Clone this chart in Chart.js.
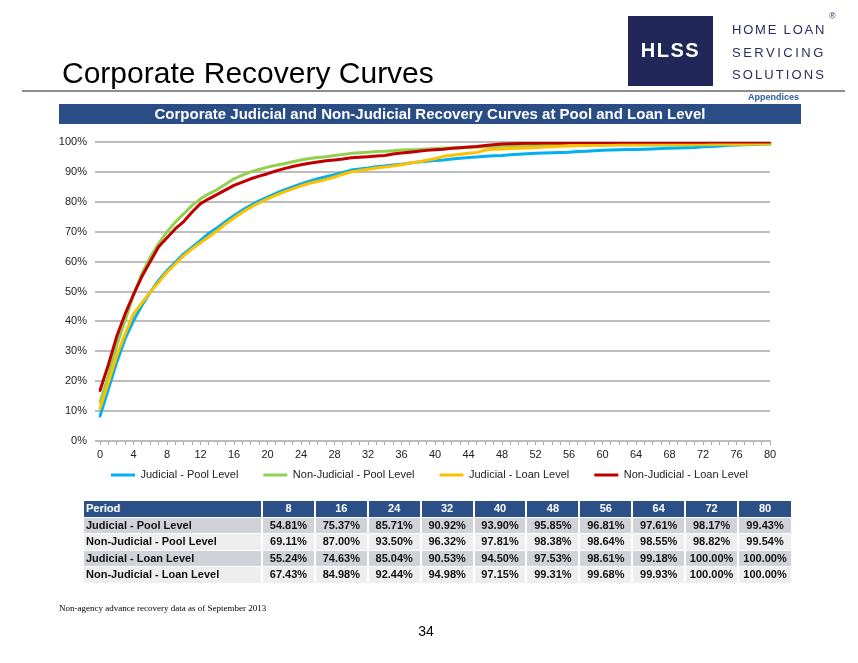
<!DOCTYPE html>
<html>
<head>
<meta charset="utf-8">
<script src="https://cdn.jsdelivr.net/npm/chart.js@4.4.1/dist/chart.umd.min.js"></script>
<style>
  html, body { margin: 0; padding: 0; background: #ffffff; }
  body { width: 858px; height: 663px; position: relative; overflow: hidden; font-family: "Liberation Sans", Arial, sans-serif; }
  #chart { position: absolute; left: 0; top: 0; }
  .abs { position: absolute; white-space: nowrap; line-height: 1; }
  #title { left: 62px; top: 57.6px; font-size: 30px; color: #000; }
  #logoBox { left: 628px; top: 16px; width: 85px; height: 70px; background: #212859; }
  #logoText { left: 628px; width: 85px; top: 40px; text-align: center; font-size: 20px; font-weight: bold; color: #fff; letter-spacing: 1.5px; }
  .logoLine { left: 732px; font-size: 13px; color: #2b2d5c; }
  #reg { left: 829px; top: 12px; font-size: 9px; color: #2b2d5c; }
  #rule { position: absolute; left: 22px; top: 90px; width: 823px; height: 1.5px; background: #8c8c8c; }
  #appx { right: 59px; top: 93.4px; font-size: 9px; font-weight: bold; color: #2e5ba0; }
  #banner { position: absolute; left: 59px; top: 104px; width: 742px; height: 20px; background: #2a4d86; color: #fff; font-weight: bold; font-size: 15px; line-height: 20px; text-align: center; white-space: nowrap; }
  #tbl { position: absolute; left: 84px; top: 501px; width: 707px; border-collapse: collapse; table-layout: fixed; font-size: 11px; font-weight: bold; }
  #tbl td { padding: 0; height: 15.5px; line-height: 15px; border-left: 2px solid #fff; border-top: 1px solid #fff; text-align: center; color: #111; overflow: hidden; }
  #tbl td:first-child { text-align: left; padding-left: 2px; border-left: none; }
  #tbl tr.hdr td { background: #2b4f87; color: #fff; border-top: none; }
  #tbl tr.odd td { background: #d0d2d9; }
  #tbl tr.even td { background: #eeeeee; }
  #foot { left: 59px; top: 603.5px; font-family: "Liberation Serif", "Times New Roman", serif; font-size: 9px; color: #000; }
  #page { left: 406px; width: 40px; text-align: center; top: 624px; font-size: 14px; color: #000; }
</style>
</head>
<body>
<canvas id="chart" width="858" height="663"></canvas>

<div class="abs" id="title">Corporate Recovery Curves</div>
<div class="abs" id="logoBox"></div>
<div class="abs" id="logoText">HLSS</div>
<div class="abs logoLine" style="top:22.5px; letter-spacing:1.8px;">HOME LOAN</div>
<div class="abs logoLine" style="top:45.7px; letter-spacing:2.5px;">SERVICING</div>
<div class="abs logoLine" style="top:68.3px; letter-spacing:2.1px;">SOLUTIONS</div>
<div class="abs" id="reg">®</div>
<div id="rule"></div>
<div class="abs" id="appx">Appendices</div>
<div id="banner">Corporate Judicial and Non-Judicial Recovery Curves at Pool and Loan Level</div>
<table id="tbl"></table>
<div class="abs" id="foot">Non-agency advance recovery data as of September 2013</div>
<div class="abs" id="page">34</div>

<script>
// ---------- Chart data ----------
const periods = [0, 1, 2, 3, 4, 5, 6, 7, 8, 9,
  10, 11, 12, 13, 14, 15, 16, 17, 18, 19,
  20, 21, 22, 23, 24, 25, 26, 27, 28, 29,
  30, 31, 32, 33, 34, 35, 36, 37, 38, 39,
  40, 41, 42, 43, 44, 45, 46, 47, 48, 49,
  50, 51, 52, 53, 54, 55, 56, 57, 58, 59,
  60, 61, 62, 63, 64, 65, 66, 67, 68, 69,
  70, 71, 72, 73, 74, 75, 76, 77, 78, 79, 80];

const seriesNames = ["Judicial - Pool Level", "Non-Judicial - Pool Level", "Judicial - Loan Level", "Non-Judicial - Loan Level"];

const judicialPool = [8.3, 17.4, 26.3, 34.2, 40.3, 45.3, 49.8, 53.7, 57.0, 59.8,
  62.6, 64.8, 67.1, 69.5, 71.3, 73.4, 75.4, 77.2, 78.8, 80.3,
  81.6, 82.8, 84.0, 85.0, 86.0, 86.9, 87.7, 88.4, 89.1, 89.8,
  90.6, 91.0, 91.3, 91.7, 92.0, 92.3, 92.6, 93.0, 93.3, 93.6,
  93.8, 94.0, 94.3, 94.6, 94.8, 95.0, 95.2, 95.4, 95.5, 95.7,
  95.9, 96.1, 96.2, 96.3, 96.4, 96.5, 96.6, 96.8, 96.9, 97.1,
  97.2, 97.3, 97.4, 97.5, 97.5, 97.6, 97.7, 97.8, 97.9, 98.0,
  98.1, 98.2, 98.4, 98.5, 98.7, 98.9, 99.0, 99.1, 99.2, 99.3, 99.3];

const nonJudicialPool = [12.9, 21.9, 32.0, 40.3, 48.7, 56.0, 61.5, 66.0, 70.0, 73.2,
  76.0, 78.8, 81.0, 82.7, 84.1, 85.9, 87.7, 88.9, 90.0, 90.8,
  91.6, 92.2, 92.7, 93.4, 94.0, 94.5, 94.8, 95.1, 95.5, 95.8,
  96.2, 96.4, 96.6, 96.8, 96.9, 97.1, 97.3, 97.4, 97.5, 97.7,
  97.8, 98.0, 98.0, 98.1, 98.2, 98.3, 98.4, 98.5, 98.6, 98.7,
  98.7, 98.8, 98.8, 98.8, 98.8, 98.9, 98.9, 98.9, 98.9, 98.9,
  98.9, 99.0, 99.0, 99.0, 99.0, 99.0, 99.0, 99.0, 99.0, 99.0,
  99.0, 99.1, 99.1, 99.1, 99.2, 99.2, 99.2, 99.2, 99.3, 99.3, 99.3];

const judicialLoan = [10.9, 19.6, 28.6, 35.8, 42.5, 46.2, 49.8, 53.1, 56.5, 59.2,
  62.0, 64.3, 66.3, 68.3, 70.4, 72.6, 74.6, 76.5, 78.2, 79.6,
  81.0, 82.2, 83.3, 84.3, 85.3, 86.2, 86.8, 87.5, 88.3, 89.2,
  90.0, 90.5, 90.9, 91.3, 91.6, 92.0, 92.4, 93.0, 93.3, 93.9,
  94.4, 95.2, 95.6, 95.9, 96.2, 96.5, 97.3, 97.6, 97.7, 97.8,
  97.9, 98.0, 98.1, 98.3, 98.4, 98.6, 98.7, 98.8, 98.9, 99.0,
  99.1, 99.1, 99.2, 99.2, 99.2, 99.3, 99.3, 99.3, 99.3, 99.3,
  99.3, 99.4, 99.4, 99.4, 99.4, 99.4, 99.4, 99.4, 99.4, 99.4, 99.4];

const nonJudicialLoan = [16.9, 25.5, 35.0, 42.5, 49.0, 55.0, 60.0, 65.0, 68.0, 71.0,
  73.4, 76.6, 79.4, 81.0, 82.5, 84.0, 85.5, 86.6, 87.7, 88.6,
  89.4, 90.3, 91.1, 91.8, 92.4, 92.9, 93.3, 93.7, 94.0, 94.3,
  94.7, 94.9, 95.1, 95.3, 95.5, 96.0, 96.3, 96.6, 96.9, 97.2,
  97.4, 97.6, 97.9, 98.1, 98.3, 98.5, 98.8, 99.1, 99.3, 99.4,
  99.5, 99.6, 99.6, 99.7, 99.7, 99.7, 99.8, 99.8, 99.8, 99.8,
  99.8, 99.8, 99.9, 99.9, 99.9, 99.9, 99.9, 99.9, 99.9, 99.9,
  99.9, 99.9, 99.9, 100, 100, 100, 100, 100, 100, 100, 100];

const seriesColors = ["#00b0f0", "#92d050", "#ffc000", "#c00000"];

// ---------- Table data ----------
const tableHeader = ["Period", "8", "16", "24", "32", "40", "48", "56", "64", "72", "80"];
const rowJudicialPool = ["Judicial - Pool Level", "54.81%", "75.37%", "85.71%", "90.92%", "93.90%", "95.85%", "96.81%", "97.61%", "98.17%", "99.43%"];
const rowNonJudicialPool = ["Non-Judicial - Pool Level", "69.11%", "87.00%", "93.50%", "96.32%", "97.81%", "98.38%", "98.64%", "98.55%", "98.82%", "99.54%"];
const rowJudicialLoan = ["Judicial - Loan Level", "55.24%", "74.63%", "85.04%", "90.53%", "94.50%", "97.53%", "98.61%", "99.18%", "100.00%", "100.00%"];
const rowNonJudicialLoan = ["Non-Judicial - Loan Level", "67.43%", "84.98%", "92.44%", "94.98%", "97.15%", "99.31%", "99.68%", "99.93%", "100.00%", "100.00%"];

// build table
(function () {
  const tbl = document.getElementById('tbl');
  const cg = document.createElement('colgroup');
  const widths = [178, 52.9, 52.9, 52.9, 52.9, 52.9, 52.9, 52.9, 52.9, 52.9, 52.9];
  widths.forEach(w => { const c = document.createElement('col'); c.style.width = w + 'px'; cg.appendChild(c); });
  tbl.appendChild(cg);
  const rows = [[tableHeader, 'hdr'], [rowJudicialPool, 'odd'], [rowNonJudicialPool, 'even'], [rowJudicialLoan, 'odd'], [rowNonJudicialLoan, 'even']];
  rows.forEach(([cells, cls]) => {
    const tr = document.createElement('tr');
    tr.className = cls;
    cells.forEach(t => { const td = document.createElement('td'); td.textContent = t; tr.appendChild(td); });
    tbl.appendChild(tr);
  });
})();

// ---------- Chart ----------
const seriesData = [judicialPool, nonJudicialPool, judicialLoan, nonJudicialLoan];
const drawOrder = [3, 2, 1, 0];
const GRID = '#bdbdbd';
const FONT = { family: '"Liberation Sans", Arial, sans-serif', size: 11 };

const datasets = seriesNames.map((name, i) => ({
  label: name,
  data: seriesData[i],
  borderColor: seriesColors[i],
  backgroundColor: seriesColors[i],
  borderWidth: 3,
  pointRadius: 0,
  pointHoverRadius: 0,
  tension: 0,
  borderJoinStyle: 'round',
  borderCapStyle: 'round',
  fill: false,
  order: drawOrder[i]
}));

// place the legend where the reference has it (first key at x=111, text centre y=475)
const legendPlacer = {
  id: 'legendPlacer',
  afterLayout(chart) {
    const lg = chart.legend;
    if (!lg) return;
    const dy = 450 - lg.top;   // top + padding(25) + itemHeight/2(5.5) = 475+5? -> computed below
    const targetTop = 475 - 25 - 5.5;
    const shift = targetTop - lg.top;
    lg.top += shift; lg.bottom += shift;
    const w = 858 - 86;
    lg.left = 86; lg.right = 858; lg.width = w;
  }
};

new Chart(document.getElementById('chart'), {
  type: 'line',
  data: { labels: periods, datasets: datasets },
  plugins: [legendPlacer],
  options: {
    responsive: false,
    devicePixelRatio: 1,
    animation: false,
    events: [],
    layout: { padding: { left: 50, right: 88, top: 142, bottom: 155 } },
    scales: {
      x: {
        type: 'category',
        offset: false,
        grid: { drawOnChartArea: false, drawTicks: true, tickLength: 4, color: '#a8a8a8', lineWidth: 1 },
        border: { display: true, color: GRID, width: 2 },
        ticks: {
          autoSkip: false, maxRotation: 0, minRotation: 0, padding: 3,
          color: '#222', font: FONT,
          callback: function (v, i) { return i % 4 === 0 ? String(periods[i]) : ''; }
        },
        afterFit: function (s) { s.height = 21; }
      },
      y: {
        min: 0, max: 100,
        grid: { color: GRID, lineWidth: 2, drawTicks: true, tickLength: 5 },
        border: { display: false },
        ticks: { stepSize: 10, padding: 8, color: '#222', font: FONT, callback: v => v + '%' },
        afterFit: function (s) { s.width = 50; }
      }
    },
    plugins: {
      tooltip: { enabled: false },
      title: { display: false },
      legend: {
        display: true,
        position: 'bottom',
        align: 'start',
        labels: {
          boxWidth: 24, boxHeight: 3, padding: 25,
          color: '#222', font: FONT,
          sort: (a, b) => a.datasetIndex - b.datasetIndex,
          generateLabels: function (chart) {
            const items = Chart.defaults.plugins.legend.labels.generateLabels(chart);
            items.forEach(it => { it.lineWidth = 0; });
            return items;
          }
        }
      }
    }
  }
});
</script>
</body>
</html>
